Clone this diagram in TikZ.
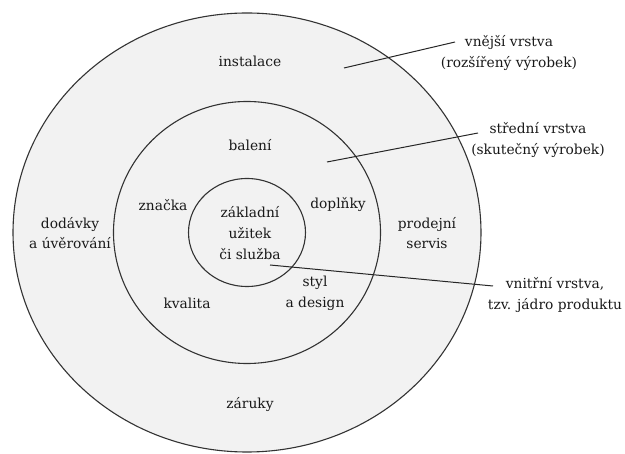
\documentclass[tikz,border=0pt]{standalone}
\usepackage{fontspec}
\setmainfont{DejaVu Serif}
\usetikzlibrary{positioning}

\begin{document}
\begin{tikzpicture}[
		x=1pt, y=-1pt,
		ring/.style={draw=black!80, line width=1.1pt, fill=black!5},
		word/.style={font=\fontsize{13.8}{20.8}\selectfont, align=center, inner sep=2pt, text=black!90},
		lead/.style={draw=black!85, line width=1pt}
		]
		
		\useasboundingbox (0,0) rectangle (625,454);
		
		% --------------------------------------------------
		% Rings
		% --------------------------------------------------
		\coordinate (c) at (247,232.5);
		\draw[ring] (c) ellipse [x radius=234pt, y radius=219.5pt];
		\draw[ring] (c) ellipse [x radius=133.5pt, y radius=131pt];
		\draw[ring] (c) ellipse [x radius=58.5pt, y radius=54pt];
		
		% --------------------------------------------------
		% Outer layer
		% --------------------------------------------------
		\node[word] (inst) at (250,61) {instalace};
		\node[word] (dod) at (70,233) {dodávky\\a úvěrování};
		\node[word] (serv) at (427,233) {prodejní\\servis};
		\node[word] (zar) at (250,405) {záruky};
		
		% --------------------------------------------------
		% Middle layer
		% --------------------------------------------------
		\node[word] (bal) at (250,145) {balení};
		\node[word] (zn) at (163,205) {značka};
		\node[word] (dopl) at (338,205) {doplňky};
		\node[word] (kval) at (187,303) {kvalita};
		\node[word] (styl) at (315,293) {styl\\a design};
		
		% --------------------------------------------------
		% Core
		% --------------------------------------------------
		\node[word] (zakl) at (250,233) {základní\\užitek\\či služba};
		
		% --------------------------------------------------
		% Layer names with leaders
		% --------------------------------------------------
		\node[word] (vnejsi) at (509,53) {vnější vrstva\\(rozšířený výrobek)};
		\node[word] (stredni) at (538,140) {střední vrstva\\(skutečný výrobek)};
		\node[word] (vnitrni) at (555,295) {vnitřní vrstva,\\tzv. jádro produktu};
		
		\coordinate (o1) at (344,68);
		\coordinate (o2) at (455,42);
		\coordinate (m1) at (327,162);
		\coordinate (m2) at (478,133);
		\coordinate (i1) at (270,265);
		\coordinate (i2) at (493,286);
		
		\draw[lead] (o1) -- (o2);
		\draw[lead] (m1) -- (m2);
		\draw[lead] (i1) -- (i2);
		
	\end{tikzpicture}
\end{document}
